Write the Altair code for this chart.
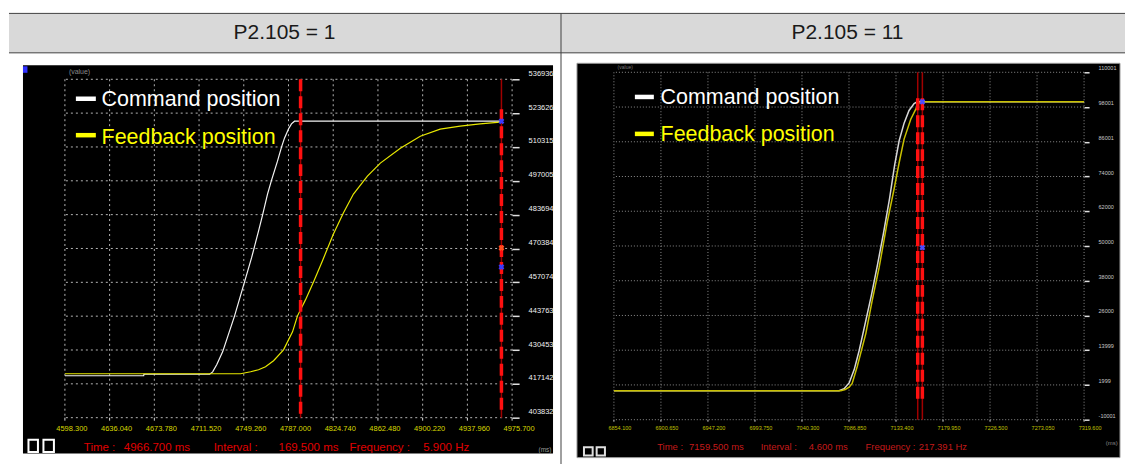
import altair as alt
import pandas as pd

# ---------------- data: panel A (P2.105 = 1) ----------------
A_HEADER = "P2.105 = 1"
A_X_TICKS = [4598.300, 4636.040, 4673.780, 4711.520, 4749.260, 4787.000,
             4824.740, 4862.480, 4900.220, 4937.960, 4975.700]
A_Y_LEFT_TICKS = [402504, 416381, 430258, 444135, 458012, 471890,
                  485767, 499644, 513521, 527398, 541275]
A_Y_RIGHT_TICKS = [403832, 417142, 430453, 443763, 457074, 470384,
                   483694, 497005, 510315, 523626, 536936]
A_CMD_T = [4598.3, 4664.8, 4665.0, 4720.5, 4723.0, 4726.5, 4731.5, 4741.5,
           4749.9, 4755.8, 4761.7, 4765.1, 4769.3, 4772.7, 4777.7, 4781.1,
           4783.6, 4787.0, 4789.5, 4792.1, 4966.4]
A_CMD_V = [419698, 419698, 420312, 420312, 421300, 424300, 429600, 444259,
           458177, 468001, 479000, 485603, 494200, 499931, 507708, 513439,
           517123, 520900, 523000, 524082, 524082]
A_FBK_T = [4598.3, 4746.6, 4755.0, 4761.7, 4767.6, 4774.4, 4782.8, 4790.4,
           4794.6, 4801.3, 4808.1, 4815.6, 4824.9, 4833.3, 4841.8, 4853.6,
           4864.5, 4881.4, 4898.2, 4915.0, 4931.9, 4948.7, 4965.6]
A_FBK_V = [420517, 420517, 421335, 422154, 423382, 425838, 430341, 437709,
           444259, 450809, 458177, 466773, 477826, 486422, 494200, 501568,
           506890, 513030, 517942, 520807, 522036, 522977, 523673]
A_CURSOR_T = [4797.2, 4966.7]
A_DASH_TOP = [541275, 528994]
A_DASH_BOT = [402504, 404550]
A_MARK_BLUE_T = [4966.7, 4966.7]
A_MARK_BLUE_V = [524082, 464300]
A_MARK_RED_T = [4966.7]
A_MARK_RED_V = [472100]
A_STATUS_LABELS = ["Time :", "4966.700 ms", "Interval :", "169.500 ms",
                   "Frequency :", "5.900 Hz"]

# ---------------- data: panel B (P2.105 = 11) ----------------
B_HEADER = "P2.105 = 11"
B_X_TICKS = [6854.100, 6900.650, 6947.200, 6993.750, 7040.300, 7086.850,
             7133.400, 7179.950, 7226.500, 7273.050, 7319.600]
B_Y_LEFT_TICKS = [-10018, 2004, 14027, 26050, 38072, 50094, 62117, 74140,
                  86162, 98184, 110207]
B_Y_RIGHT_TICKS = [-10001, 1999, 13999, 26000, 38000, 50000, 62000, 74000,
                   86001, 98001, 110001]
B_CMD_T = [6854.1, 7077.0, 7082.0, 7087.0, 7092.0, 7097.0, 7103.0, 7109.0,
           7115.0, 7121.0, 7127.0, 7132.0, 7136.5, 7141.4, 7146.3, 7151.3,
           7154.5, 7319.6]
B_CMD_V = [0, 0, 700, 2700, 7300, 14000, 23500, 33000, 43500, 54500, 66500,
           78000, 86500, 92600, 97000, 99400, 100000, 100000]
B_FBK_T = [6854.1, 7078.8, 7083.1, 7087.0, 7090.0, 7095.0, 7103.5, 7109.8,
           7116.7, 7124.6, 7131.5, 7136.5, 7141.4, 7148.0, 7153.0, 7156.2,
           7159.2, 7319.6]
B_FBK_V = [0, 0, 440, 1234, 2511, 8379, 19770, 31161, 42655, 58188, 69821,
           78899, 87080, 93984, 97435, 99610, 100000, 100000]
B_CURSOR_T = [7154.9, 7159.5]
B_DASH_TOP = [101232, 101232]
B_DASH_BOT = [-4051, -4051]
B_MARK_T = [7159.5, 7159.5]
B_MARK_V = [100000, 49500]
B_STATUS_LABELS = ["Time :", "7159.500 ms", "Interval :", "4.600 ms",
                   "Frequency :", "217.391 Hz"]

LEGEND_LABELS = ["Command position", "Feedback position"]

# ---------------- styling ----------------
SANS = "Liberation Sans, Arial, sans-serif"
ONE = pd.DataFrame({"k": [0]})


def deco_text(text, x, y, color, size, font=SANS, align="left", baseline="alphabetic"):
    return alt.Chart(ONE).mark_text(
        text=text, align=align, baseline=baseline, color=color,
        fontSize=size, font=font
    ).encode(x=alt.value(x), y=alt.value(y))


def deco_rect(x, x2, y, y2, **kw):
    return alt.Chart(ONE).mark_rect(**kw).encode(
        x=alt.value(x), x2=alt.value(x2), y=alt.value(y), y2=alt.value(y2))


def deco_hline(x, x2, y, color, width):
    return alt.Chart(ONE).mark_rule(color=color, strokeWidth=width).encode(
        x=alt.value(x), x2=alt.value(x2), y=alt.value(y))


def deco_vline(x, y, y2, color, width):
    return alt.Chart(ONE).mark_rule(color=color, strokeWidth=width).encode(
        x=alt.value(x), y=alt.value(y), y2=alt.value(y2))


def neg_label():
    return "datum.value < 0 ? '-' + format(-datum.value, 'd') : format(datum.value, 'd')"


def build_panel(x_ticks, yl_ticks, yr_ticks, y_range, cmd_t, cmd_v, fbk_t, fbk_v,
                cursor_t, dash_top, dash_bot, marks, st):
    xs = alt.Scale(domain=[x_ticks[0], x_ticks[-1]], nice=False, zero=False)
    ys = alt.Scale(domain=[yl_ticks[0], yl_ticks[-1]], range=y_range, nice=False, zero=False)
    ysr = alt.Scale(domain=[yr_ticks[0], yr_ticks[-1]], range=y_range, nice=False, zero=False)
    bottom = y_range[0]

    ax_yl = alt.Axis(values=yl_ticks, title=None, domain=False, grid=False,
                     labelExpr=neg_label(),
                     tickSize=st["ytick"], tickColor="#e0e0e0", tickWidth=1.5,
                     labelColor=st["ylab"], labelFont=SANS, labelFontSize=st["fs"],
                     labelPadding=st["ylpad"], labelOffset=st["yoff"], labelFlush=False,
                     labelOverlap=False, zindex=1)
    ax_yr = alt.Axis(values=yr_ticks, orient="right", title=None, domain=False, grid=False,
                     labelExpr=neg_label(),
                     tickSize=st["ytick"], tickColor="#e0e0e0", tickWidth=1.5,
                     labelColor=st["rlab"], labelFont=SANS, labelFontSize=st["fs"],
                     labelPadding=st["yrpad"], labelOffset=st["yoff"], labelFlush=False,
                     labelOverlap=False, zindex=1)

    xdf = pd.DataFrame({"t": x_ticks, "top": yl_ticks[-1], "bot": yl_ticks[0]})
    grid_v = alt.Chart(xdf).mark_rule(
        color=st["grid"], strokeDash=st["dash"], strokeWidth=1
    ).encode(x=alt.X("t:Q", scale=xs, axis=None),
             y=alt.Y("top:Q", scale=ys, axis=None), y2="bot:Q")
    grid_h = alt.Chart(pd.DataFrame({"v": yl_ticks})).mark_rule(
        color=st["grid"], strokeDash=st["dash"], strokeWidth=1
    ).encode(y=alt.Y("v:Q", scale=ys, axis=None))

    # x axis ticks and labels, placed through the x scale
    x_tick_marks = alt.Chart(xdf).mark_rule(color="#dddddd", strokeWidth=1).encode(
        x=alt.X("t:Q", scale=xs, axis=None),
        y=alt.value(bottom), y2=alt.value(bottom + st["xtick"]))
    x_labels = alt.Chart(xdf).mark_text(
        color=st["ylab"], fontSize=st["fs"], font=SANS, align="center",
        baseline="middle", dx=st["xoff"]
    ).encode(x=alt.X("t:Q", scale=xs, axis=None),
             y=alt.value(bottom + st["xlab"]),
             text=alt.Text("t:Q", format=".3f"))

    cmd = alt.Chart(pd.DataFrame({"t": cmd_t, "v": cmd_v})).mark_line(
        color=st["white"], strokeWidth=st["lw"]
    ).encode(x=alt.X("t:Q", scale=xs, axis=None), y=alt.Y("v:Q", scale=ys, axis=ax_yl))
    fbk = alt.Chart(pd.DataFrame({"t": fbk_t, "v": fbk_v})).mark_line(
        color=st["yellow"], strokeWidth=st["lw"]
    ).encode(x=alt.X("t:Q", scale=xs, axis=None), y=alt.Y("v:Q", scale=ys, axis=None))

    cur_thin = alt.Chart(pd.DataFrame({"t": cursor_t, "top": yl_ticks[-1], "bot": yl_ticks[0]})).mark_rule(
        color="#a00000", strokeWidth=1.5
    ).encode(x=alt.X("t:Q", scale=xs, axis=None),
             y=alt.Y("top:Q", scale=ys, axis=None), y2="bot:Q")
    cur_dash = alt.Chart(pd.DataFrame({"t": cursor_t, "top": dash_top, "bot": dash_bot})).mark_rule(
        color="#ff1010", strokeWidth=3.5, strokeDash=[12, 5]
    ).encode(x=alt.X("t:Q", scale=xs, axis=None),
             y=alt.Y("top:Q", scale=ys, axis=None), y2="bot:Q")

    mark_layers = []
    for (mt, mv, mc) in marks:
        mark_layers.append(
            alt.Chart(pd.DataFrame({"t": mt, "v": mv})).mark_point(
                shape="cross", angle=45, filled=True, size=35, color=mc, opacity=1
            ).encode(x=alt.X("t:Q", scale=xs, axis=None), y=alt.Y("v:Q", scale=ys, axis=None))
        )

    right_axis = alt.Chart(pd.DataFrame({"v": yr_ticks})).mark_point(opacity=0).encode(
        y=alt.Y("v:Q", scale=ysr, axis=ax_yr))
    return ([grid_h, grid_v, x_tick_marks, x_labels, cmd, fbk, cur_thin, cur_dash]
            + mark_layers), right_axis


# ---------------- panel A ----------------
stA = dict(fs=7.5, xtick=3, xlab=11, xoff=7, ytick=7, ylpad=5, yrpad=9, yoff=-6,
           ylab="#d8d800", rlab="#f0f0f0", grid="#b4b4b4", dash=[2, 3],
           white="#f4f4f4", yellow="#e8e800", lw=1.2)
coreA, rightA = build_panel(
    A_X_TICKS, A_Y_LEFT_TICKS, A_Y_RIGHT_TICKS, [346, 7],
    A_CMD_T, A_CMD_V, A_FBK_T, A_FBK_V, A_CURSOR_T, A_DASH_TOP, A_DASH_BOT,
    [(A_MARK_BLUE_T, A_MARK_BLUE_V, "#3a3aff"), (A_MARK_RED_T, A_MARK_RED_V, "#ff5020")],
    stA)

decoA_back = [
    deco_rect(-56, 1062, -59, -19.5, fill="#d9d9d9"),
    deco_hline(-56, 1062, -59, "#404040", 1),
    deco_hline(-56, 1062, -19.5, "#404040", 1),
    deco_vline(497, -59, 393, "#404040", 1),
    deco_text(A_HEADER, 220, -39, "#1a1a1a", 21, align="center", baseline="middle"),
    deco_rect(-42, 489, -7, 382, fill="black"),
    deco_rect(-42, -37.5, -6, 0.5, fill="#3030ff"),
]
decoA_front = [
    deco_hline(11, 31, 26.5, "#ffffff", 4.5),
    deco_hline(11, 31, 63, "#ffff00", 4.5),
    deco_text(LEGEND_LABELS[0], 36.7, 34, "#ffffff", 21.5),
    deco_text(LEGEND_LABELS[1], 36.7, 71.7, "#ffff00", 21.5),
    deco_text("(value)", 4, 0, "#8a8a8a", 7, baseline="middle"),
    deco_text("(ms)", 474.5, 378, "#9a9a9a", 6.5, baseline="middle"),
    deco_rect(-36.5, -27, 368, 380.5, fill="black", stroke="#ffffff", strokeWidth=2),
    deco_rect(-21.5, -11, 368, 380.5, fill="black", stroke="#ffffff", strokeWidth=2),
]
for lab, xp in zip(A_STATUS_LABELS, [19, 59, 149, 214, 285, 359]):
    decoA_front.append(deco_text(lab, xp, 379, "#e00000", 11.5))

panelA = alt.layer(
    alt.layer(*(decoA_back + coreA + decoA_front)), rightA
).resolve_scale(y="independent").properties(width=448, height=346)

# ---------------- panel B ----------------
stB = dict(fs=5.5, xtick=2, xlab=8, xoff=6, ytick=5, ylpad=7, yrpad=9, yoff=-4.5,
           ylab="#c0c000", rlab="#c8c8c8", grid="#8c8c8c", dash=[1, 2],
           white="#d8d8d8", yellow="#c8c000", lw=1.5)
coreB, rightB = build_panel(
    B_X_TICKS, B_Y_LEFT_TICKS, B_Y_RIGHT_TICKS, [348, 0],
    B_CMD_T, B_CMD_V, B_FBK_T, B_FBK_V, B_CURSOR_T, B_DASH_TOP, B_DASH_BOT,
    [(B_MARK_T, B_MARK_V, "#4a4aff")],
    stB)

decoB_back = [
    deco_text(B_HEADER, 234, -39, "#1a1a1a", 21, align="center", baseline="middle"),
    deco_rect(-37, 507, -9, 386, fill="black", stroke="#9a9a9a", strokeWidth=1),
]
decoB_front = [
    deco_hline(21, 40, 24.7, "#ffffff", 4.5),
    deco_hline(21, 40, 61.7, "#ffff00", 4.5),
    deco_text(LEGEND_LABELS[0], 46.7, 31.7, "#ffffff", 21.5),
    deco_text(LEGEND_LABELS[1], 46.7, 69, "#ffff00", 21.5),
    deco_text("(value)", 3.7, -5, "#7a7a7a", 5, baseline="middle"),
    deco_text("(ms)", 492.7, 371, "#8a8a8a", 6, baseline="middle"),
    deco_rect(-30, -21.3, 375.7, 384, fill="black", stroke="#e0e0e0", strokeWidth=2),
    deco_rect(-17.3, -9, 375.7, 384, fill="black", stroke="#e0e0e0", strokeWidth=2),
]
for lab, xp in zip(B_STATUS_LABELS, [43.3, 75.3, 147, 195.3, 252, 305.3]):
    decoB_front.append(deco_text(lab, xp, 378, "#c41a1a", 9.5))

panelB = alt.layer(
    alt.layer(*(decoB_back + coreB + decoB_front)), rightB
).resolve_scale(y="independent").properties(width=471, height=348)

chart = alt.hconcat(panelA, panelB, spacing=102, bounds="flush").configure(
    background="white",
    padding={"left": 0, "top": 4, "right": 0, "bottom": 0},
).configure_view(strokeWidth=0)

chart.save("out.html", embed_options={"renderer": "svg", "actions": False})
